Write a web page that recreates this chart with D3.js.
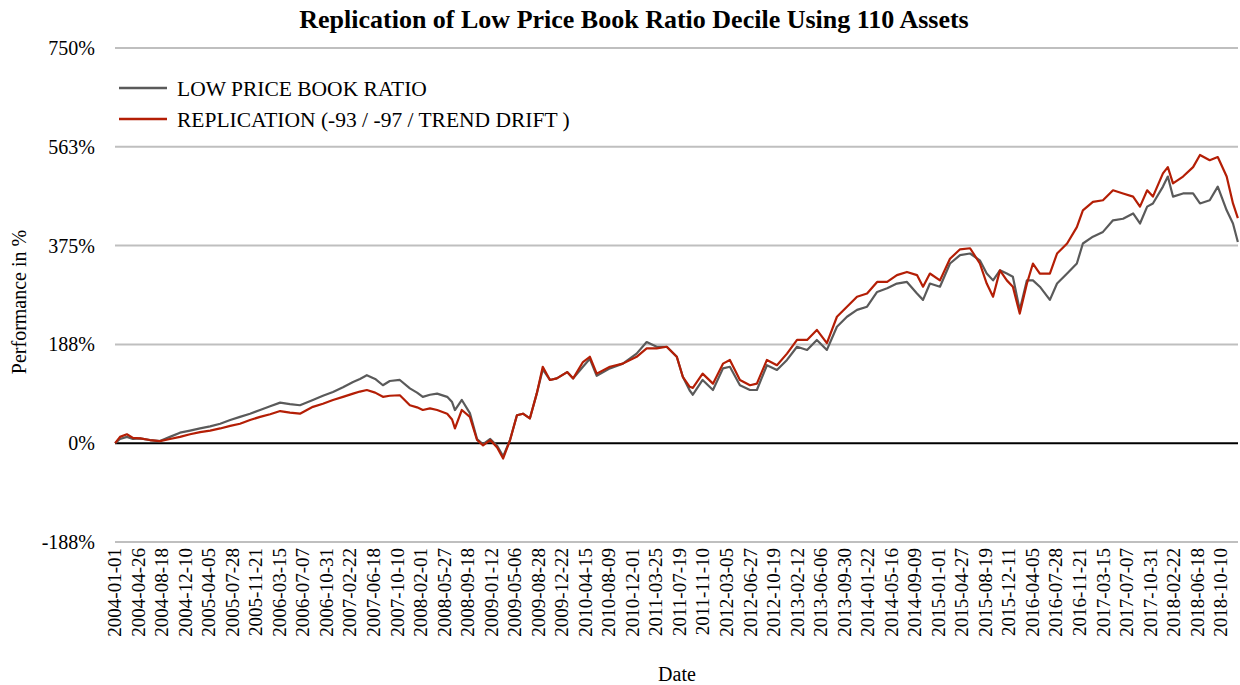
<!DOCTYPE html>
<html>
<head>
<meta charset="utf-8">
<script src="https://cdn.jsdelivr.net/npm/d3@7"></script>
<style>
    body { margin: 0; background: #fff; }
    text { font-family: "Liberation Serif", "Times New Roman", serif; fill: #000; }
</style>
</head>
<body>
<div id="chart"></div>
<script>
'use strict';

var TITLE = 'Replication of Low Price Book Ratio Decile Using 110 Assets';
var SERIES_NAMES = ['LOW PRICE BOOK RATIO', 'REPLICATION (-93 / -97 / TREND DRIFT )'];
var SERIES_COLORS = ['#5a5a5a', '#b41e05'];

var yTicks = [-187.5, 0, 187.5, 375, 562.5, 750];
var yTickLabels = ['-188%', '0%', '188%', '375%', '563%', '750%'];

var xTickLabels = [
    '2004-01-01', '2004-04-26', '2004-08-18', '2004-12-10', '2005-04-05', '2005-07-28',
    '2005-11-21', '2006-03-15', '2006-07-07', '2006-10-31', '2007-02-22', '2007-06-18',
    '2007-10-10', '2008-02-01', '2008-05-27', '2008-09-18', '2009-01-12', '2009-05-06',
    '2009-08-28', '2009-12-22', '2010-04-15', '2010-08-09', '2010-12-01', '2011-03-25',
    '2011-07-19', '2011-11-10', '2012-03-05', '2012-06-27', '2012-10-19', '2013-02-12',
    '2013-06-06', '2013-09-30', '2014-01-22', '2014-05-16', '2014-09-09', '2015-01-01',
    '2015-04-27', '2015-08-19', '2015-12-11', '2016-04-05', '2016-07-28', '2016-11-21',
    '2017-03-15', '2017-07-07', '2017-10-31', '2018-02-22', '2018-06-18', '2018-10-10'
];

var obsDates = [
    '2004-01-01', '2004-01-26', '2004-02-27', '2004-03-29', '2004-05-03', '2004-06-18',
    '2004-08-06', '2004-09-24', '2004-11-12', '2004-12-31', '2005-02-18', '2005-04-08',
    '2005-05-27', '2005-07-15', '2005-09-01', '2005-10-20', '2005-12-08', '2006-01-26',
    '2006-03-16', '2006-05-03', '2006-06-21', '2006-08-23', '2006-10-11', '2006-11-29',
    '2007-01-17', '2007-03-07', '2007-04-10', '2007-05-14', '2007-06-22', '2007-07-31',
    '2007-09-03', '2007-10-22', '2007-12-10', '2008-01-14', '2008-02-11', '2008-03-17',
    '2008-04-21', '2008-06-09', '2008-07-02', '2008-07-16', '2008-08-19', '2008-09-26',
    '2008-10-31', '2008-12-01', '2009-01-05', '2009-02-06', '2009-03-09', '2009-04-10',
    '2009-05-14', '2009-06-12', '2009-07-16', '2009-08-19', '2009-09-17', '2009-10-22',
    '2009-11-25', '2010-01-14', '2010-02-12', '2010-04-01', '2010-05-05', '2010-06-08',
    '2010-08-11', '2010-10-13', '2010-12-20', '2011-02-07', '2011-03-28', '2011-05-16',
    '2011-07-04', '2011-08-02', '2011-09-05', '2011-09-20', '2011-11-07', '2011-12-27',
    '2012-02-14', '2012-03-19', '2012-05-07', '2012-06-25', '2012-07-27', '2012-09-14',
    '2012-11-02', '2012-12-21', '2013-02-08', '2013-03-29', '2013-05-16', '2013-07-04',
    '2013-08-22', '2013-10-10', '2013-11-28', '2014-01-16', '2014-03-06', '2014-04-24',
    '2014-06-11', '2014-07-30', '2014-09-17', '2014-10-16', '2014-11-19', '2015-01-07',
    '2015-02-25', '2015-04-15', '2015-06-03', '2015-07-21', '2015-08-24', '2015-09-23',
    '2015-10-27', '2015-11-30', '2015-12-29', '2016-02-01', '2016-03-07', '2016-04-05',
    '2016-05-09', '2016-06-27', '2016-08-01', '2016-09-19', '2016-11-04', '2016-12-05',
    '2017-01-23', '2017-03-13', '2017-05-01', '2017-06-19', '2017-08-07', '2017-09-08',
    '2017-10-13', '2017-11-10', '2017-12-29', '2018-01-23', '2018-02-16', '2018-04-06',
    '2018-05-25', '2018-06-28', '2018-08-15', '2018-09-24', '2018-11-06', '2018-12-06',
    '2018-12-31'
];

var lowPriceBook = [
    0, 8, 12, 8, 9, 6,
    4, 12, 20, 24, 28, 32,
    37, 44, 50, 56, 63, 70,
    77, 74, 72, 82, 90, 97,
    106, 116, 122, 129, 122, 110,
    118, 120, 104, 96, 88, 92,
    94, 88, 78, 63, 82, 57,
    8, -2, 8, -5, -25, 6,
    53, 56, 47, 94, 140, 120,
    123, 135, 123, 145, 160, 128,
    142, 151, 170, 192, 183, 183,
    164, 126, 100, 92, 120, 101,
    142, 145, 110, 101, 101, 148,
    139, 158, 183, 177, 196, 177,
    221, 240, 253, 259, 287, 294,
    303, 306, 284, 272, 303, 297,
    341, 357, 360, 347, 322, 309,
    328, 322, 316, 253, 309, 309,
    297, 272, 303, 322, 341, 379,
    392, 401, 423, 426, 436, 417,
    449, 455, 487, 506, 468, 474,
    474, 455, 461, 487, 442, 417,
    382
];

var replication = [
    0, 12, 17, 10, 9, 6,
    4, 8, 12, 17, 21, 24,
    28, 33, 37, 44, 50, 55,
    61, 58, 56, 69, 75, 82,
    88, 94, 98, 101, 96, 88,
    90, 91, 72, 68, 63, 66,
    63, 56, 45, 28, 63, 50,
    6, -4, 6, -8, -29, 6,
    53, 56, 47, 94, 145, 120,
    123, 135, 123, 154, 164, 132,
    145, 151, 164, 180, 180, 183,
    164, 126, 107, 105, 132, 113,
    151, 158, 120, 110, 113, 158,
    148, 170, 196, 196, 215, 190,
    240, 259, 278, 284, 306, 306,
    319, 325, 319, 297, 322, 309,
    350, 368, 370, 341, 303, 278,
    328, 309, 297, 246, 303, 341,
    322, 322, 360, 379, 410, 442,
    458, 461, 480, 474, 468, 449,
    480, 468, 512, 524, 493, 506,
    524, 547, 537, 543, 506, 455,
    427
];

var width = 1240, height = 685;
var margin = { top: 48, right: 2, bottom: 143, left: 115 };
var parseDate = d3.timeParse('%Y-%m-%d');

// trading days (weekdays) form the category axis
var tradingDays = d3.timeDay.range(parseDate('2004-01-01'), parseDate('2019-01-01'))
    .filter(function (d) { return d.getDay() !== 0 && d.getDay() !== 6; });

function dayIndex(str) {
    var i = d3.bisectLeft(tradingDays, parseDate(str));
    return Math.min(i, tradingDays.length - 1);
}

var svg = d3.select('#chart').append('svg')
    .attr('width', width)
    .attr('height', height);

var xScale = d3.scaleBand()
    .domain(d3.range(tradingDays.length))
    .range([margin.left, width - margin.right]);

function xPos(str) {
    return xScale(dayIndex(str)) + xScale.bandwidth() / 2;
}

var yScale = d3.scaleLinear()
    .domain([-187.5, 750])
    .range([height - margin.bottom, margin.top]);

// gridlines
svg.selectAll('.grid')
    .data(yTicks)
    .enter()
    .append('line')
    .attr('class', 'grid')
    .attr('x1', margin.left)
    .attr('x2', width - margin.right)
    .attr('y1', function (d) { return yScale(d); })
    .attr('y2', function (d) { return yScale(d); })
    .attr('stroke', function (d) { return d === 0 ? '#000' : '#bfbfbf'; })
    .attr('stroke-width', 2);

// y tick labels
svg.selectAll('.ylab')
    .data(yTicks)
    .enter()
    .append('text')
    .attr('class', 'ylab')
    .attr('x', 95)
    .attr('y', function (d) { return yScale(d); })
    .attr('dy', '0.35em')
    .attr('text-anchor', 'end')
    .attr('font-size', '20px')
    .text(function (d, i) { return yTickLabels[i]; });

// x tick labels
svg.selectAll('.xlab')
    .data(xTickLabels)
    .enter()
    .append('text')
    .attr('class', 'xlab')
    .attr('transform', function (d) {
        return 'translate(' + (xPos(d) + 6) + ',' + (height - margin.bottom + 6) + ') rotate(-90)';
    })
    .attr('text-anchor', 'end')
    .attr('font-size', '19px')
    .text(function (d) { return d; });

// series
var seriesData = [lowPriceBook, replication];
var line = d3.line()
    .x(function (d) { return xPos(d[0]); })
    .y(function (d) { return yScale(d[1]); });

seriesData.forEach(function (values, s) {
    svg.append('path')
        .datum(obsDates.map(function (d, i) { return [d, values[i]]; }))
        .attr('fill', 'none')
        .attr('stroke', SERIES_COLORS[s])
        .attr('stroke-width', 2.2)
        .attr('stroke-linejoin', 'round')
        .attr('d', line);
});

// title
svg.append('text')
    .attr('x', 634)
    .attr('y', 28)
    .attr('text-anchor', 'middle')
    .attr('font-size', '26px')
    .attr('font-weight', 'bold')
    .text(TITLE);

// axis titles
svg.append('text')
    .attr('x', 677)
    .attr('y', 681)
    .attr('text-anchor', 'middle')
    .attr('font-size', '20px')
    .text('Date');

svg.append('text')
    .attr('transform', 'translate(26,' + 302 + ') rotate(-90)')
    .attr('text-anchor', 'middle')
    .attr('font-size', '20px')
    .text('Performance in %');

// legend
var legend = svg.selectAll('.legend')
    .data(SERIES_NAMES)
    .enter()
    .append('g')
    .attr('class', 'legend')
    .attr('transform', function (d, i) { return 'translate(119,' + (88 + i * 31) + ')'; });

legend.append('line')
    .attr('x1', 0)
    .attr('x2', 48)
    .attr('stroke', function (d, i) { return SERIES_COLORS[i]; })
    .attr('stroke-width', 2.5);

legend.append('text')
    .attr('x', 58)
    .attr('dy', '0.35em')
    .attr('font-size', '21.5px')
    .text(function (d) { return d; });
</script>
</body>
</html>
